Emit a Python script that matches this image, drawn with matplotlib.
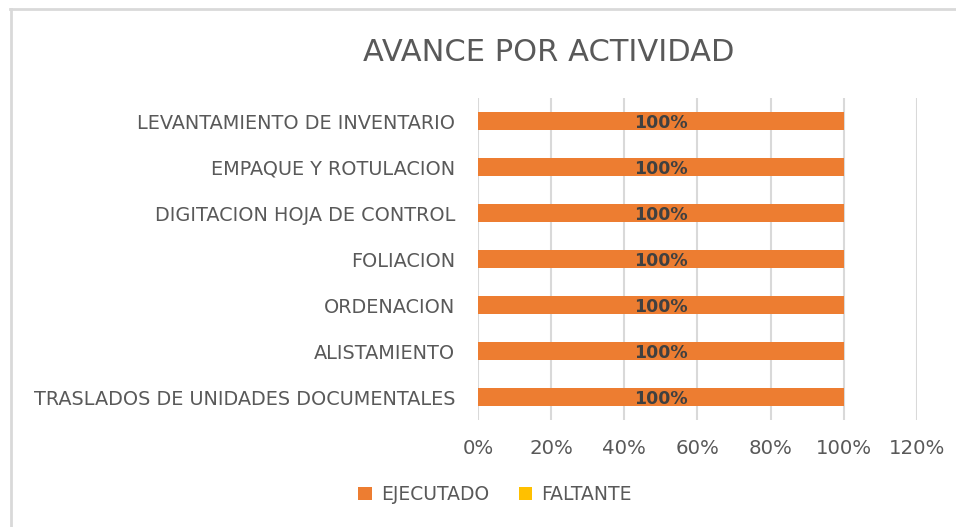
import matplotlib
matplotlib.use('Agg')
import matplotlib.pyplot as plt
from matplotlib.lines import Line2D
from matplotlib.ticker import PercentFormatter

plt.rcParams['font.family'] = ['DejaVu Sans']

# data
actividades = ['TRASLADOS DE UNIDADES DOCUMENTALES', 'ALISTAMIENTO', 'ORDENACION',
               'FOLIACION', 'DIGITACION HOJA DE CONTROL', 'EMPAQUE Y ROTULACION',
               'LEVANTAMIENTO DE INVENTARIO']
ejecutado = [1.0, 1.0, 1.0, 1.0, 1.0, 1.0, 1.0]
faltante = [0.0, 0.0, 0.0, 0.0, 0.0, 0.0, 0.0]
ticks = [0, 0.2, 0.4, 0.6, 0.8, 1.0, 1.2]

gris = '#595959'
fig = plt.figure(figsize=(9.56, 5.27), dpi=100)
ax = fig.add_axes([0.5, 0.203, 0.4592, 0.611])

y = range(len(actividades))
b1 = ax.barh(y, ejecutado, height=0.39, color='#ED7D31', label='EJECUTADO', zorder=3)
b2 = ax.barh(y, faltante, left=ejecutado, height=0.39, color='#FFC000', label='FALTANTE', zorder=3)

# data labels
for i, v in enumerate(ejecutado):
    ax.text(v / 2, i - 0.05, '{:.0%}'.format(v), ha='center', va='center',
            fontsize=12.5, fontweight='bold', color='#404040', zorder=4)

ax.set_xlim(0, 1.2)
ax.set_ylim(-0.5, len(actividades) - 0.5)
ax.set_xticks(ticks)
ax.xaxis.set_major_formatter(PercentFormatter(1.0, decimals=0))
ax.set_yticks(list(y))
ax.set_yticklabels(actividades)
ax.tick_params(axis='both', length=0, colors=gris)
ax.tick_params(axis='x', pad=14, labelsize=14.2)
ax.tick_params(axis='y', pad=16.5, labelsize=13.9)
ax.grid(axis='x', color='#D9D9D9', linewidth=1.5, zorder=0)
for s in ax.spines.values():
    s.set_visible(False)

fig.text(0.574, 0.901, 'AVANCE POR ACTIVIDAD', ha='center', va='center',
         fontsize=22, color=gris)

fig.legend(handles=[b1, b2], loc='center', bbox_to_anchor=(0.518, 0.061), ncol=2,
           frameon=False, fontsize=13.5, labelcolor=gris, handlelength=0.7,
           handleheight=0.7, handletextpad=0.5, columnspacing=1.6)

# frame lines (top and left only)
fig.add_artist(Line2D([0.01, 1.0], [0.983, 0.983], color='#D9D9D9', linewidth=2, transform=fig.transFigure))
fig.add_artist(Line2D([0.011, 0.011], [0.0, 0.983], color='#D9D9D9', linewidth=2, transform=fig.transFigure))

plt.savefig('out.png', dpi=100)
